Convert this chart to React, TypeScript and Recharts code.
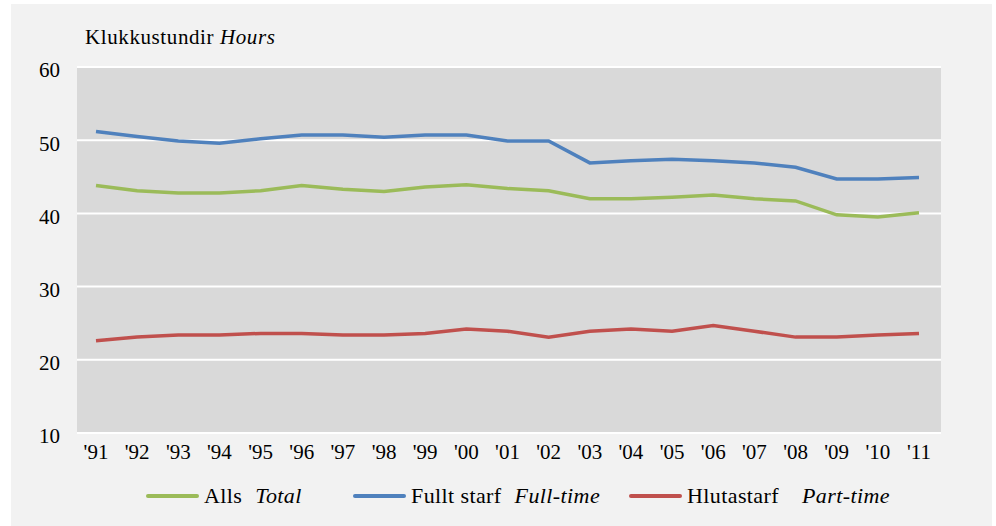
import React from 'react';
import { LineChart, Line, XAxis, YAxis, CartesianGrid } from 'recharts';

const years = ["'91", "'92", "'93", "'94", "'95", "'96", "'97", "'98", "'99", "'00", "'01", "'02", "'03", "'04", "'05", "'06", "'07", "'08", "'09", "'10", "'11"];
const total = [43.8, 43.1, 42.8, 42.8, 43.1, 43.8, 43.3, 43.0, 43.6, 43.9, 43.4, 43.1, 42.0, 42.0, 42.2, 42.5, 42.0, 41.7, 39.8, 39.5, 40.1];
const fullTime = [51.2, 50.5, 49.9, 49.6, 50.2, 50.7, 50.7, 50.4, 50.7, 50.7, 49.9, 49.9, 46.9, 47.2, 47.4, 47.2, 46.9, 46.3, 44.7, 44.7, 44.9];
const partTime = [22.6, 23.1, 23.4, 23.4, 23.6, 23.6, 23.4, 23.4, 23.6, 24.2, 23.9, 23.1, 23.9, 24.2, 23.9, 24.7, 23.9, 23.1, 23.1, 23.4, 23.6];
const yTicks = [10, 20, 30, 40, 50, 60];

const seriesNames = ['Alls', 'Fullt starf', 'Hlutastarf'];
const seriesEnglish = ['Total', 'Full-time', 'Part-time'];
const seriesKeys = ['total', 'fullTime', 'partTime'];
const seriesColors = ['#9bbb59', '#4f81bd', '#c0504d'];
const titleMain = 'Klukkustundir';
const titleEn = 'Hours';

const data = years.map((y, i) => ({ year: y, total: total[i], fullTime: fullTime[i], partTime: partTime[i] }));

const FONT = '"Liberation Serif", "Times New Roman", serif';
const legendLeft = [146, 353, 629];
const legendGap = [13, 13, 23];

function ChartLegend() {
  return (
    <div style={{ position: 'absolute', left: 0, top: 481, width: 996, height: 30 }}>
      {seriesNames.map((name, i) => (
        <div
          key={name}
          style={{
            position: 'absolute',
            left: legendLeft[i],
            top: 0,
            display: 'flex',
            alignItems: 'center',
            fontFamily: FONT,
            fontSize: 22,
            letterSpacing: 0.4,
            color: '#000',
            whiteSpace: 'nowrap',
            lineHeight: '30px',
          }}
        >
          <span style={{ display: 'inline-block', width: 53, height: 4, background: seriesColors[i], borderRadius: 2, marginRight: 5 }} />
          <span>{name}</span>
          <span style={{ fontStyle: 'italic', marginLeft: legendGap[i] }}>{seriesEnglish[i]}</span>
        </div>
      ))}
    </div>
  );
}

export default function App() {
  return (
    <div style={{ position: 'absolute', left: 0, top: 0, width: 996, height: 526, background: '#ffffff' }}>
      <div style={{ position: 'absolute', left: 11, top: 4, width: 981, height: 522, background: '#f2f2f2' }} />
      <div
        style={{
          position: 'absolute',
          left: 85,
          top: 27,
          fontFamily: FONT,
          fontSize: 21,
          letterSpacing: 0.6,
          lineHeight: '21px',
          color: '#000',
          whiteSpace: 'nowrap',
        }}
      >
        {titleMain} <i>{titleEn}</i>
      </div>
      <div style={{ position: 'absolute', left: 0, top: 0 }}>
        <LineChart width={996} height={526} data={data} margin={{ top: 67, right: 55, bottom: 53, left: 17 }}>
          <CartesianGrid vertical={false} stroke="#ffffff" strokeWidth={2} fill="#d9d9d9" />
          <XAxis
            dataKey="year"
            axisLine={false}
            tickLine={false}
            tickSize={0}
            tickMargin={11}
            height={40}
            interval={0}
            padding={{ left: 19, right: 22 }}
            tick={{ fill: '#000', fontSize: 21, fontFamily: FONT }}
          />
          <YAxis
            domain={[10, 60]}
            ticks={yTicks}
            axisLine={false}
            tickLine={false}
            tickSize={0}
            tickMargin={17}
            width={60}
            tick={{ fill: '#000', fontSize: 21, fontFamily: FONT, dy: 3 }}
          />
          {seriesKeys.map((k, i) => (
            <Line
              key={k}
              type="linear"
              dataKey={k}
              name={seriesNames[i]}
              stroke={seriesColors[i]}
              strokeWidth={3.5}
              dot={false}
              activeDot={false}
              isAnimationActive={false}
            />
          ))}
        </LineChart>
      </div>
      <ChartLegend />
    </div>
  );
}
